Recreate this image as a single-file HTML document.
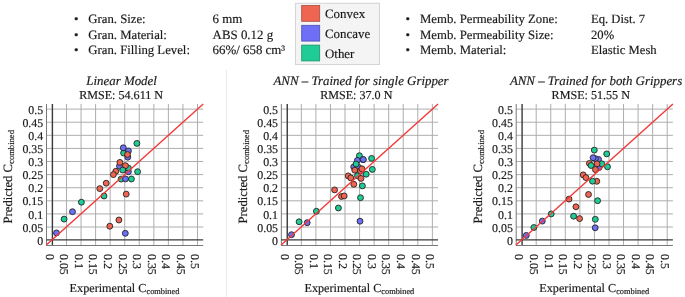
<!DOCTYPE html>
<html><head><meta charset="utf-8"><style>
html,body{margin:0;padding:0;background:#fff;width:685px;height:297px;overflow:hidden}
svg{display:block}
</style></head><body>
<svg width="685" height="297" viewBox="0 0 685 297">
<style>
.gr{stroke:#adadad;stroke-width:1.0}
.fr{stroke:#787878;stroke-width:1}
.ax{stroke:#383838;stroke-width:1.4}
.dg{stroke:#f43636;stroke-width:1.4}
.pt{stroke:#222;stroke-width:0.9}
text{font-family:"Liberation Serif",serif;fill:#1a1a1a;stroke:#1a1a1a;stroke-width:0.18px;text-rendering:geometricPrecision}
.tk{font-size:11.9px}
.ti{font-size:12.9px;font-style:italic}
.rm{font-size:12.1px}
.at{font-size:12.2px}
.sub{font-size:8.4px}
.yt{font-size:12.7px}
.ysub{font-size:8.6px}
.bl{font-size:12.9px}
.bll{font-size:12.75px}
.blr{font-size:12.65px}
.lg{font-size:12.9px}
</style>
<rect width="685" height="297" fill="#fff"/>
<g opacity="0.995">
<line x1="226.5" y1="69.8" x2="226.5" y2="297" stroke="#ececec" stroke-width="1"/>
<line x1="66.49" y1="104" x2="66.49" y2="245" class="gr"/>
<line x1="46.3" y1="227.02" x2="203.2" y2="227.02" class="gr"/>
<line x1="81.05" y1="104" x2="81.05" y2="245" class="gr"/>
<line x1="46.3" y1="213.92" x2="203.2" y2="213.92" class="gr"/>
<line x1="95.6" y1="104" x2="95.6" y2="245" class="gr"/>
<line x1="46.3" y1="200.82" x2="203.2" y2="200.82" class="gr"/>
<line x1="110.16" y1="104" x2="110.16" y2="245" class="gr"/>
<line x1="46.3" y1="187.72" x2="203.2" y2="187.72" class="gr"/>
<line x1="124.72" y1="104" x2="124.72" y2="245" class="gr"/>
<line x1="46.3" y1="174.62" x2="203.2" y2="174.62" class="gr"/>
<line x1="139.28" y1="104" x2="139.28" y2="245" class="gr"/>
<line x1="46.3" y1="161.52" x2="203.2" y2="161.52" class="gr"/>
<line x1="153.84" y1="104" x2="153.84" y2="245" class="gr"/>
<line x1="46.3" y1="148.42" x2="203.2" y2="148.42" class="gr"/>
<line x1="168.39" y1="104" x2="168.39" y2="245" class="gr"/>
<line x1="46.3" y1="135.32" x2="203.2" y2="135.32" class="gr"/>
<line x1="182.95" y1="104" x2="182.95" y2="245" class="gr"/>
<line x1="46.3" y1="122.22" x2="203.2" y2="122.22" class="gr"/>
<line x1="197.51" y1="104" x2="197.51" y2="245" class="gr"/>
<line x1="46.3" y1="109.12" x2="203.2" y2="109.12" class="gr"/>
<line x1="46.5" y1="104" x2="46.5" y2="245.5" class="fr"/>
<line x1="46.3" y1="245.5" x2="203.2" y2="245.5" class="fr"/>
<line x1="52.4" y1="104" x2="52.4" y2="245" class="ax"/>
<line x1="46.3" y1="239.9" x2="203.2" y2="239.9" class="ax"/>
<circle cx="136.9" cy="143.4" r="2.95" fill="#1ecc96" class="pt"/>
<circle cx="123.6" cy="153" r="2.95" fill="#1ecc96" class="pt"/>
<circle cx="123.3" cy="147.8" r="2.95" fill="#6c6ef6" class="pt"/>
<circle cx="128.4" cy="150.9" r="2.95" fill="#6c6ef6" class="pt"/>
<circle cx="127.8" cy="157.2" r="2.95" fill="#6c6ef6" class="pt"/>
<circle cx="127.5" cy="154.5" r="2.95" fill="#ee6450" class="pt"/>
<circle cx="119.5" cy="166.1" r="2.95" fill="#6c6ef6" class="pt"/>
<circle cx="119.9" cy="162.4" r="2.95" fill="#ee6450" class="pt"/>
<circle cx="128.4" cy="171.7" r="2.95" fill="#6c6ef6" class="pt"/>
<circle cx="128.4" cy="168.1" r="2.95" fill="#1ecc96" class="pt"/>
<circle cx="125.5" cy="165.7" r="2.95" fill="#ee6450" class="pt"/>
<circle cx="122.7" cy="170.1" r="2.95" fill="#1ecc96" class="pt"/>
<circle cx="115.8" cy="171.3" r="2.95" fill="#ee6450" class="pt"/>
<circle cx="113.4" cy="174.6" r="2.95" fill="#ee6450" class="pt"/>
<circle cx="137.6" cy="171.7" r="2.95" fill="#1ecc96" class="pt"/>
<circle cx="121.1" cy="179.1" r="2.95" fill="#1ecc96" class="pt"/>
<circle cx="125.5" cy="178.9" r="2.95" fill="#6c6ef6" class="pt"/>
<circle cx="131.4" cy="179" r="2.95" fill="#1ecc96" class="pt"/>
<circle cx="106.2" cy="183.2" r="2.95" fill="#ee6450" class="pt"/>
<circle cx="99.8" cy="188.6" r="2.95" fill="#ee6450" class="pt"/>
<circle cx="104" cy="196" r="2.95" fill="#1ecc96" class="pt"/>
<circle cx="126.2" cy="194.1" r="2.95" fill="#ee6450" class="pt"/>
<circle cx="81.4" cy="202.2" r="2.95" fill="#1ecc96" class="pt"/>
<circle cx="72.5" cy="211.7" r="2.95" fill="#6c6ef6" class="pt"/>
<circle cx="64.1" cy="219.1" r="2.95" fill="#1ecc96" class="pt"/>
<circle cx="118.9" cy="220" r="2.95" fill="#ee6450" class="pt"/>
<circle cx="109.8" cy="226.2" r="2.95" fill="#ee6450" class="pt"/>
<circle cx="125.3" cy="233.3" r="2.95" fill="#6c6ef6" class="pt"/>
<circle cx="56.5" cy="232.9" r="2.95" fill="#6c6ef6" class="pt"/>
<line x1="46.3" y1="245" x2="203.2" y2="104" class="dg"/>
<text x="43.2" y="244.72" class="tk" text-anchor="end">0</text>
<text transform="translate(45.73,254) rotate(90)" class="tk">0</text>
<text x="43.2" y="231.62" class="tk" text-anchor="end">0.05</text>
<text transform="translate(60.29,254) rotate(90)" class="tk">0.05</text>
<text x="43.2" y="218.52" class="tk" text-anchor="end">0.1</text>
<text transform="translate(74.85,254) rotate(90)" class="tk">0.1</text>
<text x="43.2" y="205.42" class="tk" text-anchor="end">0.15</text>
<text transform="translate(89.4,254) rotate(90)" class="tk">0.15</text>
<text x="43.2" y="192.32" class="tk" text-anchor="end">0.2</text>
<text transform="translate(103.96,254) rotate(90)" class="tk">0.2</text>
<text x="43.2" y="179.22" class="tk" text-anchor="end">0.25</text>
<text transform="translate(118.52,254) rotate(90)" class="tk">0.25</text>
<text x="43.2" y="166.12" class="tk" text-anchor="end">0.3</text>
<text transform="translate(133.08,254) rotate(90)" class="tk">0.3</text>
<text x="43.2" y="153.02" class="tk" text-anchor="end">0.35</text>
<text transform="translate(147.64,254) rotate(90)" class="tk">0.35</text>
<text x="43.2" y="139.92" class="tk" text-anchor="end">0.4</text>
<text transform="translate(162.19,254) rotate(90)" class="tk">0.4</text>
<text x="43.2" y="126.82" class="tk" text-anchor="end">0.45</text>
<text transform="translate(176.75,254) rotate(90)" class="tk">0.45</text>
<text x="43.2" y="113.72" class="tk" text-anchor="end">0.5</text>
<text transform="translate(191.31,254) rotate(90)" class="tk">0.5</text>
<line x1="301.34" y1="104" x2="301.34" y2="245" class="gr"/>
<line x1="281.15" y1="227.02" x2="438.05" y2="227.02" class="gr"/>
<line x1="315.9" y1="104" x2="315.9" y2="245" class="gr"/>
<line x1="281.15" y1="213.92" x2="438.05" y2="213.92" class="gr"/>
<line x1="330.45" y1="104" x2="330.45" y2="245" class="gr"/>
<line x1="281.15" y1="200.82" x2="438.05" y2="200.82" class="gr"/>
<line x1="345.01" y1="104" x2="345.01" y2="245" class="gr"/>
<line x1="281.15" y1="187.72" x2="438.05" y2="187.72" class="gr"/>
<line x1="359.57" y1="104" x2="359.57" y2="245" class="gr"/>
<line x1="281.15" y1="174.62" x2="438.05" y2="174.62" class="gr"/>
<line x1="374.13" y1="104" x2="374.13" y2="245" class="gr"/>
<line x1="281.15" y1="161.52" x2="438.05" y2="161.52" class="gr"/>
<line x1="388.69" y1="104" x2="388.69" y2="245" class="gr"/>
<line x1="281.15" y1="148.42" x2="438.05" y2="148.42" class="gr"/>
<line x1="403.24" y1="104" x2="403.24" y2="245" class="gr"/>
<line x1="281.15" y1="135.32" x2="438.05" y2="135.32" class="gr"/>
<line x1="417.8" y1="104" x2="417.8" y2="245" class="gr"/>
<line x1="281.15" y1="122.22" x2="438.05" y2="122.22" class="gr"/>
<line x1="432.36" y1="104" x2="432.36" y2="245" class="gr"/>
<line x1="281.15" y1="109.12" x2="438.05" y2="109.12" class="gr"/>
<line x1="281.35" y1="104" x2="281.35" y2="245.5" class="fr"/>
<line x1="281.15" y1="245.5" x2="438.05" y2="245.5" class="fr"/>
<line x1="287.25" y1="104" x2="287.25" y2="245" class="ax"/>
<line x1="281.15" y1="239.9" x2="438.05" y2="239.9" class="ax"/>
<circle cx="359.4" cy="155.7" r="2.95" fill="#1ecc96" class="pt"/>
<circle cx="357.4" cy="160.4" r="2.95" fill="#6c6ef6" class="pt"/>
<circle cx="363.1" cy="159.7" r="2.95" fill="#6c6ef6" class="pt"/>
<circle cx="363.3" cy="159.5" r="2.95" fill="#6c6ef6" class="pt"/>
<circle cx="353.7" cy="166.9" r="2.95" fill="#6c6ef6" class="pt"/>
<circle cx="358.4" cy="167.3" r="2.95" fill="#6c6ef6" class="pt"/>
<circle cx="356.1" cy="164" r="2.95" fill="#1ecc96" class="pt"/>
<circle cx="371.6" cy="158.4" r="2.95" fill="#1ecc96" class="pt"/>
<circle cx="354.8" cy="170.2" r="2.95" fill="#ee6450" class="pt"/>
<circle cx="360.4" cy="171" r="2.95" fill="#ee6450" class="pt"/>
<circle cx="361.9" cy="168.8" r="2.95" fill="#ee6450" class="pt"/>
<circle cx="372.3" cy="169.4" r="2.95" fill="#1ecc96" class="pt"/>
<circle cx="366.2" cy="174.2" r="2.95" fill="#1ecc96" class="pt"/>
<circle cx="357.5" cy="175.8" r="2.95" fill="#1ecc96" class="pt"/>
<circle cx="361" cy="178.4" r="2.95" fill="#ee6450" class="pt"/>
<circle cx="348.2" cy="175.9" r="2.95" fill="#ee6450" class="pt"/>
<circle cx="350.8" cy="177.9" r="2.95" fill="#ee6450" class="pt"/>
<circle cx="353.8" cy="184.3" r="2.95" fill="#ee6450" class="pt"/>
<circle cx="362.4" cy="185.9" r="2.95" fill="#1ecc96" class="pt"/>
<circle cx="334.6" cy="189.9" r="2.95" fill="#ee6450" class="pt"/>
<circle cx="341.5" cy="196.5" r="2.95" fill="#ee6450" class="pt"/>
<circle cx="344.2" cy="195.9" r="2.95" fill="#ee6450" class="pt"/>
<circle cx="360.5" cy="197.7" r="2.95" fill="#1ecc96" class="pt"/>
<circle cx="338.4" cy="208" r="2.95" fill="#1ecc96" class="pt"/>
<circle cx="316.4" cy="211.3" r="2.95" fill="#1ecc96" class="pt"/>
<circle cx="299.1" cy="221.8" r="2.95" fill="#1ecc96" class="pt"/>
<circle cx="307.2" cy="222.7" r="2.95" fill="#6c6ef6" class="pt"/>
<circle cx="360" cy="221.2" r="2.95" fill="#6c6ef6" class="pt"/>
<circle cx="291.5" cy="234.7" r="2.95" fill="#6c6ef6" class="pt"/>
<line x1="281.15" y1="245" x2="438.05" y2="104" class="dg"/>
<text x="278.05" y="244.72" class="tk" text-anchor="end">0</text>
<text transform="translate(280.58,254) rotate(90)" class="tk">0</text>
<text x="278.05" y="231.62" class="tk" text-anchor="end">0.05</text>
<text transform="translate(295.14,254) rotate(90)" class="tk">0.05</text>
<text x="278.05" y="218.52" class="tk" text-anchor="end">0.1</text>
<text transform="translate(309.7,254) rotate(90)" class="tk">0.1</text>
<text x="278.05" y="205.42" class="tk" text-anchor="end">0.15</text>
<text transform="translate(324.25,254) rotate(90)" class="tk">0.15</text>
<text x="278.05" y="192.32" class="tk" text-anchor="end">0.2</text>
<text transform="translate(338.81,254) rotate(90)" class="tk">0.2</text>
<text x="278.05" y="179.22" class="tk" text-anchor="end">0.25</text>
<text transform="translate(353.37,254) rotate(90)" class="tk">0.25</text>
<text x="278.05" y="166.12" class="tk" text-anchor="end">0.3</text>
<text transform="translate(367.93,254) rotate(90)" class="tk">0.3</text>
<text x="278.05" y="153.02" class="tk" text-anchor="end">0.35</text>
<text transform="translate(382.49,254) rotate(90)" class="tk">0.35</text>
<text x="278.05" y="139.92" class="tk" text-anchor="end">0.4</text>
<text transform="translate(397.04,254) rotate(90)" class="tk">0.4</text>
<text x="278.05" y="126.82" class="tk" text-anchor="end">0.45</text>
<text transform="translate(411.6,254) rotate(90)" class="tk">0.45</text>
<text x="278.05" y="113.72" class="tk" text-anchor="end">0.5</text>
<text transform="translate(426.16,254) rotate(90)" class="tk">0.5</text>
<line x1="536.19" y1="104" x2="536.19" y2="245" class="gr"/>
<line x1="516" y1="227.02" x2="672.9" y2="227.02" class="gr"/>
<line x1="550.75" y1="104" x2="550.75" y2="245" class="gr"/>
<line x1="516" y1="213.92" x2="672.9" y2="213.92" class="gr"/>
<line x1="565.3" y1="104" x2="565.3" y2="245" class="gr"/>
<line x1="516" y1="200.82" x2="672.9" y2="200.82" class="gr"/>
<line x1="579.86" y1="104" x2="579.86" y2="245" class="gr"/>
<line x1="516" y1="187.72" x2="672.9" y2="187.72" class="gr"/>
<line x1="594.42" y1="104" x2="594.42" y2="245" class="gr"/>
<line x1="516" y1="174.62" x2="672.9" y2="174.62" class="gr"/>
<line x1="608.98" y1="104" x2="608.98" y2="245" class="gr"/>
<line x1="516" y1="161.52" x2="672.9" y2="161.52" class="gr"/>
<line x1="623.54" y1="104" x2="623.54" y2="245" class="gr"/>
<line x1="516" y1="148.42" x2="672.9" y2="148.42" class="gr"/>
<line x1="638.09" y1="104" x2="638.09" y2="245" class="gr"/>
<line x1="516" y1="135.32" x2="672.9" y2="135.32" class="gr"/>
<line x1="652.65" y1="104" x2="652.65" y2="245" class="gr"/>
<line x1="516" y1="122.22" x2="672.9" y2="122.22" class="gr"/>
<line x1="667.21" y1="104" x2="667.21" y2="245" class="gr"/>
<line x1="516" y1="109.12" x2="672.9" y2="109.12" class="gr"/>
<line x1="516.2" y1="104" x2="516.2" y2="245.5" class="fr"/>
<line x1="516" y1="245.5" x2="672.9" y2="245.5" class="fr"/>
<line x1="522.1" y1="104" x2="522.1" y2="245" class="ax"/>
<line x1="516" y1="239.9" x2="672.9" y2="239.9" class="ax"/>
<circle cx="599.1" cy="167.5" r="2.95" fill="#6c6ef6" class="pt"/>
<circle cx="598.5" cy="159.4" r="2.95" fill="#6c6ef6" class="pt"/>
<circle cx="595.4" cy="158.7" r="2.95" fill="#6c6ef6" class="pt"/>
<circle cx="593.1" cy="157.7" r="2.95" fill="#6c6ef6" class="pt"/>
<circle cx="589.4" cy="163.4" r="2.95" fill="#ee6450" class="pt"/>
<circle cx="591.1" cy="165.5" r="2.95" fill="#1ecc96" class="pt"/>
<circle cx="601.8" cy="163.8" r="2.95" fill="#1ecc96" class="pt"/>
<circle cx="607.5" cy="166.8" r="2.95" fill="#1ecc96" class="pt"/>
<circle cx="597.1" cy="163.8" r="2.95" fill="#ee6450" class="pt"/>
<circle cx="595.4" cy="169.5" r="2.95" fill="#ee6450" class="pt"/>
<circle cx="594.3" cy="150.1" r="2.95" fill="#1ecc96" class="pt"/>
<circle cx="606.7" cy="153.9" r="2.95" fill="#1ecc96" class="pt"/>
<circle cx="583.2" cy="174.9" r="2.95" fill="#ee6450" class="pt"/>
<circle cx="585.9" cy="177.6" r="2.95" fill="#ee6450" class="pt"/>
<circle cx="596.8" cy="181.3" r="2.95" fill="#ee6450" class="pt"/>
<circle cx="592.5" cy="181.2" r="2.95" fill="#1ecc96" class="pt"/>
<circle cx="588.5" cy="194.5" r="2.95" fill="#ee6450" class="pt"/>
<circle cx="569" cy="199.1" r="2.95" fill="#ee6450" class="pt"/>
<circle cx="597.6" cy="200.7" r="2.95" fill="#1ecc96" class="pt"/>
<circle cx="575.9" cy="206.8" r="2.95" fill="#ee6450" class="pt"/>
<circle cx="573.6" cy="216.2" r="2.95" fill="#1ecc96" class="pt"/>
<circle cx="579.6" cy="218.6" r="2.95" fill="#ee6450" class="pt"/>
<circle cx="595.3" cy="219.3" r="2.95" fill="#1ecc96" class="pt"/>
<circle cx="595.2" cy="227.8" r="2.95" fill="#6c6ef6" class="pt"/>
<circle cx="551.2" cy="213.9" r="2.95" fill="#1ecc96" class="pt"/>
<circle cx="542.3" cy="221.1" r="2.95" fill="#6c6ef6" class="pt"/>
<circle cx="533.9" cy="227.5" r="2.95" fill="#1ecc96" class="pt"/>
<circle cx="526.3" cy="235.4" r="2.95" fill="#6c6ef6" class="pt"/>
<line x1="516" y1="245" x2="672.9" y2="104" class="dg"/>
<text x="512.9" y="244.72" class="tk" text-anchor="end">0</text>
<text transform="translate(515.43,254) rotate(90)" class="tk">0</text>
<text x="512.9" y="231.62" class="tk" text-anchor="end">0.05</text>
<text transform="translate(529.99,254) rotate(90)" class="tk">0.05</text>
<text x="512.9" y="218.52" class="tk" text-anchor="end">0.1</text>
<text transform="translate(544.55,254) rotate(90)" class="tk">0.1</text>
<text x="512.9" y="205.42" class="tk" text-anchor="end">0.15</text>
<text transform="translate(559.1,254) rotate(90)" class="tk">0.15</text>
<text x="512.9" y="192.32" class="tk" text-anchor="end">0.2</text>
<text transform="translate(573.66,254) rotate(90)" class="tk">0.2</text>
<text x="512.9" y="179.22" class="tk" text-anchor="end">0.25</text>
<text transform="translate(588.22,254) rotate(90)" class="tk">0.25</text>
<text x="512.9" y="166.12" class="tk" text-anchor="end">0.3</text>
<text transform="translate(602.78,254) rotate(90)" class="tk">0.3</text>
<text x="512.9" y="153.02" class="tk" text-anchor="end">0.35</text>
<text transform="translate(617.34,254) rotate(90)" class="tk">0.35</text>
<text x="512.9" y="139.92" class="tk" text-anchor="end">0.4</text>
<text transform="translate(631.89,254) rotate(90)" class="tk">0.4</text>
<text x="512.9" y="126.82" class="tk" text-anchor="end">0.45</text>
<text transform="translate(646.45,254) rotate(90)" class="tk">0.45</text>
<text x="512.9" y="113.72" class="tk" text-anchor="end">0.5</text>
<text transform="translate(661.01,254) rotate(90)" class="tk">0.5</text>
<text x="86.3" y="84.8" class="ti">Linear Model</text>
<text x="79.2" y="99.4" class="rm">RMSE: 54.611 N</text>
<text x="69.6" y="291.5" class="at">Experimental C<tspan class="sub" dy="2">combined</tspan></text>
<text transform="translate(12,223.5) rotate(-90)" class="yt">Predicted C<tspan class="ysub" dy="2">combined</tspan></text>
<text x="273.5" y="84.8" class="ti">ANN – Trained for single Gripper</text>
<text x="320.2" y="99.4" class="rm">RMSE: 37.0 N</text>
<text x="304.45" y="291.5" class="at">Experimental C<tspan class="sub" dy="2">combined</tspan></text>
<text transform="translate(246.85,223.5) rotate(-90)" class="yt">Predicted C<tspan class="ysub" dy="2">combined</tspan></text>
<text x="509.9" y="84.8" class="ti">ANN – Trained for both Grippers</text>
<text x="551.6" y="99.4" class="rm">RMSE: 51.55 N</text>
<text x="539.3" y="291.5" class="at">Experimental C<tspan class="sub" dy="2">combined</tspan></text>
<text transform="translate(481.7,223.5) rotate(-90)" class="yt">Predicted C<tspan class="ysub" dy="2">combined</tspan></text>
<!-- bullets left -->
<g class="bl">
<text x="74" y="23.2" class="bl">•</text><text x="88.3" y="23.2" class="bll">Gran. Size:</text><text x="212.6" y="23.2" class="bl">6 mm</text>
<text x="74" y="38.5" class="bl">•</text><text x="88.3" y="38.5" class="bll">Gran. Material:</text><text x="212.6" y="38.5" class="bl">ABS 0.12 g</text>
<text x="74" y="53.8" class="bl">•</text><text x="88.3" y="53.8" class="bll">Gran. Filling Level:</text><text x="212.6" y="53.8" class="bl">66%/ 658 cm³</text>
</g>
<g>
<text x="405.5" y="23.2" class="bl">•</text><text x="420" y="23.2" class="bll">Memb. Permeability Zone:</text><text x="591" y="23.2" class="blr">Eq. Dist. 7</text>
<text x="405.5" y="38.5" class="bl">•</text><text x="420" y="38.5" class="bll">Memb. Permeability Size:</text><text x="591" y="38.5" class="blr">20%</text>
<text x="405.5" y="53.8" class="bl">•</text><text x="420" y="53.8" class="bll">Memb. Material:</text><text x="591" y="53.8" class="blr">Elastic Mesh</text>
</g>
<!-- legend -->
<rect x="295.4" y="3.3" width="84.1" height="61.2" fill="#f4f4f4" stroke="#d4d4d4" stroke-width="1"/>
<rect x="301.7" y="5.5" width="18" height="15.8" fill="#ee6450" stroke="#a8483a" stroke-width="0.8"/>
<rect x="301.7" y="25.3" width="18" height="15.8" fill="#6c6ef6" stroke="#4c4eb0" stroke-width="0.8"/>
<rect x="301.7" y="45.1" width="18" height="15.8" fill="#1ecc96" stroke="#16906a" stroke-width="0.8"/>
<text x="325" y="18.1" class="lg">Convex</text>
<text x="325" y="37.7" class="lg">Concave</text>
<text x="325" y="57.5" class="lg">Other</text>
</g>
</svg>
</body></html>
